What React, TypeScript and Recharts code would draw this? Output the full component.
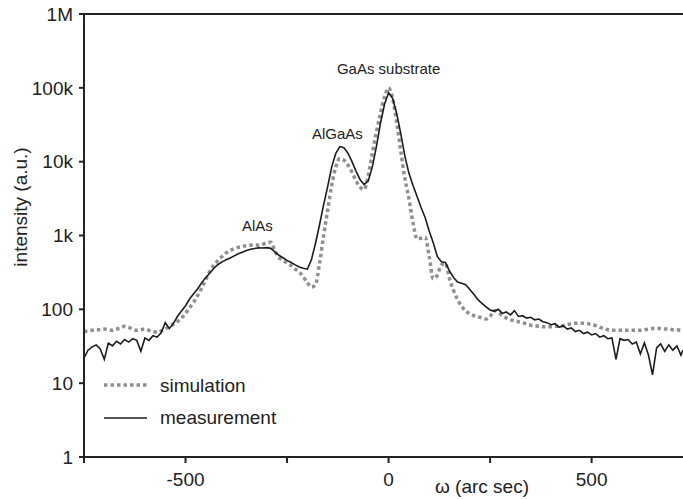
import { Line, LineChart, ReferenceDot, ReferenceLine, XAxis, YAxis } from "recharts";

const INK = "#222222";
const SIM_GREY = "#8f8f8f";
const MEAS_BLACK = "#1c1c1c";
const FONT = "'Liberation Sans', Arial, sans-serif";

// omega (arc sec)
const OMEGA = [
  -750, -740, -730, -720, -710, -700, -690, -680, -670, -660,
  -650, -640, -630, -620, -610, -600, -590, -580, -570, -560,
  -550, -540, -530, -520, -510, -500, -490, -480, -470, -460,
  -450, -440, -430, -420, -410, -400, -390, -380, -370, -360,
  -350, -340, -330, -320, -310, -300, -290, -280, -270, -260,
  -250, -240, -230, -220, -210, -200, -190, -180, -170, -160,
  -150, -140, -130, -120, -110, -100, -90, -80, -70, -60,
  -50, -40, -30, -20, -10, 0, 10, 20, 30, 40,
  50, 60, 70, 80, 90, 100, 110, 120, 130, 140,
  150, 160, 170, 180, 190, 200, 210, 220, 230, 240,
  250, 260, 270, 280, 290, 300, 310, 320, 330, 340,
  350, 360, 370, 380, 390, 400, 410, 420, 430, 440,
  450, 460, 470, 480, 490, 500, 510, 520, 530, 540,
  550, 560, 570, 580, 590, 600, 610, 620, 630, 640,
  650, 660, 670, 680, 690, 700, 710, 720, 725,
];

const SIMULATION = [
  50, 51, 52, 53, 53, 54, 53, 52, 54, 56,
  59, 57, 54, 52, 53, 54, 52, 50, 49, 51,
  54, 59, 63, 68, 76, 88, 105, 125, 155, 195,
  255, 330, 400, 460, 520, 580, 630, 665, 690, 710,
  730, 740, 745, 740, 760, 795, 810, 620, 500, 460,
  420, 390, 350, 320, 275, 230, 200, 215, 420, 1000,
  2200, 4800, 8500, 11000, 10500, 9000, 7200, 5500, 4500, 4200,
  6500, 13000, 25000, 45000, 75000, 100000, 72000, 34000, 14000, 6000,
  3200, 1500, 900, 920, 950, 520, 260, 290, 400, 420,
  260, 180, 135, 110, 95, 87, 82, 79, 77, 74,
  80, 96, 92, 82, 76, 72, 70, 68, 66, 63,
  61, 60, 59, 58, 58, 58, 59, 59, 60, 62,
  64, 65, 65, 65, 64, 62, 60, 57, 55, 53,
  52, 52, 52, 52, 52, 52, 52, 52, 53, 54,
  55, 55, 55, 54, 54, 53, 53, 52, 52,
];

const MEASUREMENT = [
  22, 28, 31, 33, 29, 21, 35, 32, 37, 34,
  39, 36, 40, 38, 27, 41, 38, 44, 42, 48,
  66, 55, 64, 80, 95, 112, 138, 162, 190, 230,
  270, 310, 360, 405, 440, 470, 495, 530, 565, 595,
  625, 650, 668, 680, 676, 685, 670, 600, 540, 500,
  460, 430, 400, 375, 360, 350, 470, 780, 1400, 2600,
  4600, 8500, 13000, 16000, 15500, 13000, 10000, 7400, 5700, 4900,
  5500, 8500, 16000, 33000, 60000, 86000, 72000, 45000, 24000, 12000,
  7000, 4800, 3400, 2400, 1750, 1150, 800, 520, 440, 430,
  330, 270, 235, 225, 215, 185, 160, 135, 120, 108,
  98, 94, 100, 88, 92, 84, 96, 80, 82, 76,
  78, 72, 74, 68, 66, 62, 64, 57, 60, 54,
  56, 50, 52, 47, 49, 45, 47, 42, 44, 40,
  41, 21, 40, 38, 39, 34, 36, 25, 35, 24,
  13, 30, 34, 27, 33, 28, 32, 24, 28,
];

const X_TICKS = [-750, -500, -250, 0, 250, 500];
const X_LABELLED = [-500, 0, 500];
const Y_TICKS = [1, 10, 100, 1000, 10000, 100000, 1000000];
const Y_TICK_LABELS = ["1", "10", "100", "1k", "10k", "100k", "1M"];

const PEAK_NAMES = ["AlAs", "AlGaAs", "GaAs substrate"];
const PEAK_OMEGA = [-323, -126, 0];
const PEAK_LABEL_LEVEL = [1360, 24000, 179000];

const SERIES = ["simulation", "measurement"];

const data = OMEGA.map((omega, i) => ({
  omega,
  simulation: SIMULATION[i],
  measurement: MEASUREMENT[i],
}));

function YTitle() {
  return (
    <text
      x={20}
      y={207}
      transform="rotate(-90 20 207)"
      textAnchor="middle"
      dominantBaseline="central"
      fontSize={19}
      fontFamily={FONT}
      fill={INK}
    >
      intensity (a.u.)
    </text>
  );
}

function XTitle() {
  return (
    <text x={482} y={493} textAnchor="middle" fontSize={19} fontFamily={FONT} fill={INK}>
      ω (arc sec)
    </text>
  );
}

// legend drawn over the plot, lower left
function LegendBox() {
  return (
    <svg
      width={180}
      height={70}
      style={{ position: "absolute", left: 100, top: 365, fontFamily: FONT }}
    >
      <line x1={4} x2={47} y1={20} y2={20} stroke={SIM_GREY} strokeWidth={3.5} strokeDasharray="3.5 3" />
      <text x={60} y={27} fontSize={19} fill={INK}>{SERIES[0]}</text>
      <line x1={4} x2={47} y1={53} y2={53} stroke={MEAS_BLACK} strokeWidth={1.6} />
      <text x={60} y={59} fontSize={19} fill={INK}>{SERIES[1]}</text>
    </svg>
  );
}

export default function App() {
  return (
    <div
      style={{
        position: "absolute",
        left: 0,
        top: 0,
        width: 683,
        height: 499,
        background: "#fff",
        fontFamily: FONT,
      }}
    >
      <LineChart width={683} height={499} data={data} margin={{ top: 14, right: 0, bottom: 0, left: 0 }}>
        <XAxis
          dataKey="omega"
          type="number"
          domain={[-750, 725]}
          ticks={X_TICKS}
          allowDataOverflow
          height={42}
          tickSize={6}
          tickMargin={10}
          stroke={INK}
          strokeWidth={2}
          tick={{ fill: INK, fontSize: 19, fontFamily: FONT }}
          tickFormatter={(v: number) => (X_LABELLED.includes(v) ? String(v) : "")}
          label={<XTitle />}
        />
        <YAxis
          type="number"
          scale="log"
          domain={[1, 1000000]}
          ticks={Y_TICKS}
          allowDataOverflow
          width={84}
          tickSize={5}
          tickMargin={6}
          stroke={INK}
          strokeWidth={2}
          tick={{ fill: INK, fontSize: 19, fontFamily: FONT }}
          tickFormatter={(v: number) => Y_TICK_LABELS[Y_TICKS.indexOf(v)] ?? ""}
          label={<YTitle />}
        />
        <ReferenceLine y={1000000} stroke={INK} strokeWidth={2} />
        <Line
          dataKey="simulation"
          name={SERIES[0]}
          type="monotone"
          stroke={SIM_GREY}
          strokeWidth={3.5}
          strokeDasharray="3.5 3"
          dot={false}
          isAnimationActive={false}
        />
        <Line
          dataKey="measurement"
          name={SERIES[1]}
          type="linear"
          stroke={MEAS_BLACK}
          strokeWidth={1.6}
          dot={false}
          isAnimationActive={false}
        />
        {PEAK_NAMES.map((name, i) => (
          <ReferenceDot
            key={name}
            x={PEAK_OMEGA[i]}
            y={PEAK_LABEL_LEVEL[i]}
            r={0}
            stroke="none"
            fill="none"
            label={{ value: name, position: "center", fontSize: 15, fill: INK, fontFamily: FONT }}
          />
        ))}
      </LineChart>
      <LegendBox />
    </div>
  );
}
